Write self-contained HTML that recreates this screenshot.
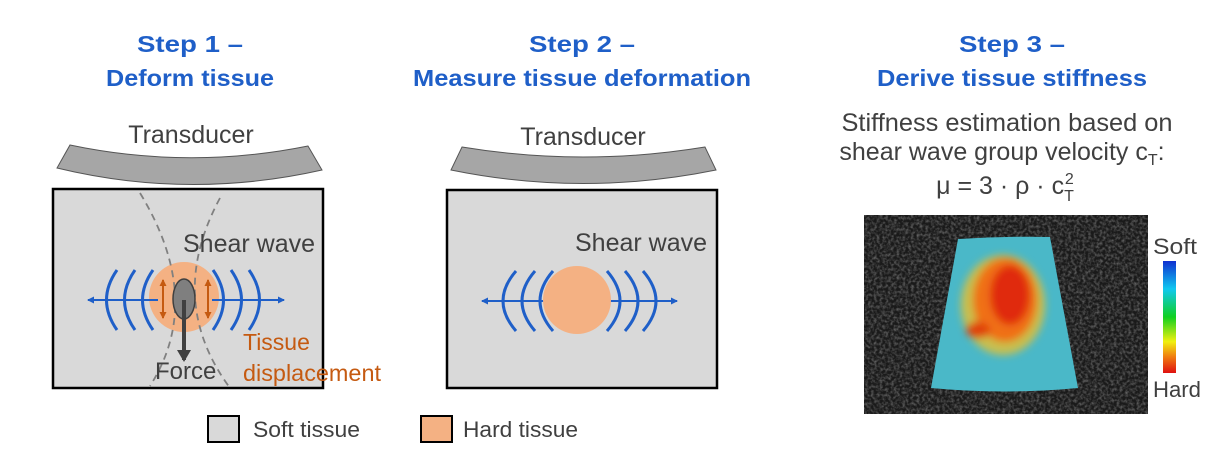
<!DOCTYPE html>
<html><head><meta charset="utf-8"><style>
html,body{margin:0;padding:0;background:#fff}
svg{display:block}
text{font-family:"Liberation Sans",Arial,sans-serif}
</style></head><body>
<svg width="1213" height="462" viewBox="0 0 1213 462" xmlns="http://www.w3.org/2000/svg">
<defs>
<marker id="ab" markerWidth="8" markerHeight="8" refX="6" refY="4" orient="auto" markerUnits="userSpaceOnUse"><path d="M0,0.5 L7,4 L0,7.5z" fill="#1f5fc8"/></marker>
<marker id="ao" markerWidth="8" markerHeight="8" refX="6" refY="4" orient="auto" markerUnits="userSpaceOnUse"><path d="M0,0.5 L7,4 L0,7.5z" fill="#c55a11"/></marker>
<marker id="ag" markerWidth="14" markerHeight="14" refX="10" refY="7" orient="auto" markerUnits="userSpaceOnUse"><path d="M0,0 L12,7 L0,14z" fill="#404040"/></marker>
<linearGradient id="cb" x1="0" y1="0" x2="0" y2="1">
<stop offset="0" stop-color="#1030d0"/><stop offset="0.25" stop-color="#10c8f0"/><stop offset="0.5" stop-color="#10d020"/><stop offset="0.72" stop-color="#f0f010"/><stop offset="0.85" stop-color="#f08010"/><stop offset="1" stop-color="#e01010"/></linearGradient>
<radialGradient id="hot" cx="0.5" cy="0.5" r="0.5"><stop offset="0" stop-color="#e02010"/><stop offset="0.5" stop-color="#f06010"/><stop offset="0.8" stop-color="#e0d030" stop-opacity="0.8"/><stop offset="1" stop-color="#50c8b0" stop-opacity="0"/></radialGradient>
<filter id="noise" x="0" y="0" width="1" height="1"><feTurbulence type="fractalNoise" baseFrequency="0.35" numOctaves="2" seed="3"/><feColorMatrix values="0 0 0 0 0.5  0 0 0 0 0.5  0 0 0 0 0.5  0 0 0 1.6 -0.6"/></filter>
<filter id="blur"><feGaussianBlur stdDeviation="4"/></filter>
</defs>

<!-- Titles -->
<g fill="#1f5fc8" font-weight="bold" font-size="23" text-anchor="middle">
<text x="190" y="52" textLength="106" lengthAdjust="spacingAndGlyphs">Step 1 –</text>
<text x="190" y="86" textLength="168" lengthAdjust="spacingAndGlyphs">Deform tissue</text>
<text x="582" y="52" textLength="106" lengthAdjust="spacingAndGlyphs">Step 2 –</text>
<text x="582" y="86" textLength="338" lengthAdjust="spacingAndGlyphs">Measure tissue deformation</text>
<text x="1012" y="52" textLength="106" lengthAdjust="spacingAndGlyphs">Step 3 –</text>
<text x="1012" y="86" textLength="270" lengthAdjust="spacingAndGlyphs">Derive tissue stiffness</text>
</g>

<!-- Panel 1 -->
<text x="191" y="143" font-size="25" fill="#404040" text-anchor="middle">Transducer</text>
<path d="M70,145 Q189,170 308,146 L322,170 Q189,200 57,168 Z" fill="#a6a6a6" stroke="#555" stroke-width="1"/>
<rect x="53" y="189" width="270" height="199" fill="#d9d9d9" stroke="#000" stroke-width="2.5"/>
<circle cx="184" cy="297" r="35" fill="#f4b183"/>
<path d="M140,193 Q205,300 150,386" fill="none" stroke="#808080" stroke-width="1.8" stroke-dasharray="7,5"/>
<path d="M220,198 Q165,300 230,388" fill="none" stroke="#808080" stroke-width="1.8" stroke-dasharray="7,5"/>
<text x="183" y="252" font-size="25" fill="#404040">Shear wave</text>
<g fill="none" stroke="#1f5fc8" stroke-width="3">
<path d="M117,270 Q96,300 117,330"/><path d="M135,270 Q114,300 135,330"/><path d="M153,270 Q132,300 153,330"/>
<path d="M213,270 Q234,300 213,330"/><path d="M231,270 Q252,300 231,330"/><path d="M249,270 Q270,300 249,330"/>
</g>
<line x1="158" y1="300" x2="88" y2="300" stroke="#1f5fc8" stroke-width="2" marker-end="url(#ab)"/>
<line x1="212" y1="300" x2="284" y2="300" stroke="#1f5fc8" stroke-width="2" marker-end="url(#ab)"/>
<ellipse cx="184" cy="299" rx="11" ry="20" fill="#7f7f7f" stroke="#404040" stroke-width="1.5"/>
<line x1="163" y1="298" x2="163" y2="280" stroke="#c55a11" stroke-width="2" marker-end="url(#ao)"/>
<line x1="163" y1="298" x2="163" y2="318" stroke="#c55a11" stroke-width="2" marker-end="url(#ao)"/>
<line x1="208" y1="298" x2="208" y2="280" stroke="#c55a11" stroke-width="2" marker-end="url(#ao)"/>
<line x1="208" y1="298" x2="208" y2="318" stroke="#c55a11" stroke-width="2" marker-end="url(#ao)"/>
<line x1="184" y1="300" x2="184" y2="360" stroke="#404040" stroke-width="4" marker-end="url(#ag)"/>
<text x="155" y="379" font-size="24" fill="#404040">Force</text>
<text x="243" y="350" font-size="23" fill="#c55a11">Tissue</text>
<text x="243" y="381" font-size="23" fill="#c55a11" textLength="138" lengthAdjust="spacingAndGlyphs">displacement</text>

<!-- Panel 2 -->
<text x="583" y="145" font-size="25" fill="#404040" text-anchor="middle">Transducer</text>
<path d="M462,147 Q583,167 705,147 L716,170 Q583,197 451,170 Z" fill="#a6a6a6" stroke="#555" stroke-width="1"/>
<rect x="447" y="190" width="270" height="198" fill="#d9d9d9" stroke="#000" stroke-width="2.5"/>
<text x="575" y="251" font-size="25" fill="#404040">Shear wave</text>
<g fill="none" stroke="#1f5fc8" stroke-width="3">
<path d="M516,271 Q490,301 516,331"/><path d="M535,271 Q509,301 535,331"/><path d="M553,271 Q527,301 553,331"/>
<path d="M607,271 Q633,301 607,331"/><path d="M625,271 Q651,301 625,331"/><path d="M643,271 Q669,301 643,331"/>
</g>
<line x1="552" y1="301" x2="482" y2="301" stroke="#1f5fc8" stroke-width="2" marker-end="url(#ab)"/>
<line x1="607" y1="301" x2="677" y2="301" stroke="#1f5fc8" stroke-width="2" marker-end="url(#ab)"/>
<circle cx="577" cy="300" r="34" fill="#f4b183"/>

<!-- Panel 3 -->
<g font-size="25" fill="#404040" text-anchor="middle">
<text x="1007" y="131" textLength="331" lengthAdjust="spacingAndGlyphs">Stiffness estimation based on</text>
<text x="1002" y="160">shear wave group velocity c<tspan font-size="16" dy="5">T</tspan><tspan dy="-5">:</tspan></text>
</g>
<text x="1005" y="194" font-size="25" fill="#404040" text-anchor="middle" font-family="Liberation Serif,serif">μ = 3 · ρ · c<tspan font-size="16" dy="7">T</tspan><tspan font-size="16" dx="-9" dy="-17">2</tspan></text>
<rect x="864" y="215" width="284" height="199" fill="#1a1a1a"/>
<rect x="864" y="215" width="284" height="199" filter="url(#noise)" opacity="0.55"/>
<path d="M958,239 Q1004,236 1050,237 L1078,388 Q1004,395 931,388 Z" fill="#4ab8c8"/>
<g filter="url(#blur)">
<ellipse cx="1003" cy="305" rx="42" ry="50" fill="#e8c030" opacity="0.8"/>
<ellipse cx="1005" cy="300" rx="32" ry="42" fill="#f07018"/>
<ellipse cx="1010" cy="295" rx="20" ry="30" fill="#e02a10"/>
<ellipse cx="978" cy="330" rx="12" ry="8" fill="#e04010"/>
</g>
<rect x="1163" y="261" width="13" height="112" fill="url(#cb)"/>
<text x="1175" y="254" font-size="22" fill="#404040" text-anchor="middle" textLength="44" lengthAdjust="spacingAndGlyphs">Soft</text>
<text x="1177" y="397" font-size="22" fill="#404040" text-anchor="middle" textLength="48" lengthAdjust="spacingAndGlyphs">Hard</text>

<!-- Legend -->
<rect x="208" y="416" width="31" height="26" fill="#d9d9d9" stroke="#000" stroke-width="2"/>
<text x="253" y="437" font-size="22" fill="#404040" textLength="107" lengthAdjust="spacingAndGlyphs">Soft tissue</text>
<rect x="421" y="416" width="31" height="26" fill="#f4b183" stroke="#000" stroke-width="2"/>
<text x="463" y="437" font-size="22" fill="#404040" textLength="115" lengthAdjust="spacingAndGlyphs">Hard tissue</text>
</svg>
</body></html>
